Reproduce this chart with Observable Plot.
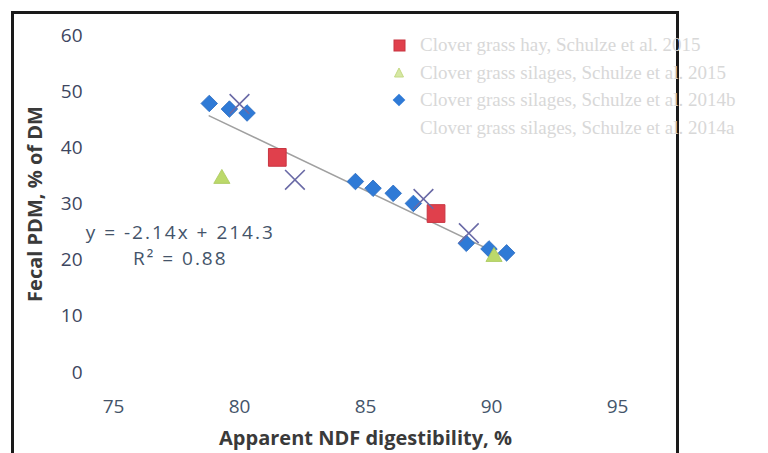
<!DOCTYPE html>
<html>
<head>
<meta charset="utf-8">
<script src="https://cdn.jsdelivr.net/npm/d3@7"></script>
<script src="https://cdn.jsdelivr.net/npm/@observablehq/plot@0.6"></script>
<style>
  html, body { margin: 0; padding: 0; background: #fff; }
  #wrap { position: relative; width: 768px; height: 453px; overflow: hidden; }
  #frame { position: absolute; left: 11px; top: 11px; width: 662px; height: 460px;
           border-left: 3px solid #1a1a1a; border-top: 3px solid #1a1a1a; border-right: 3px solid #1a1a1a; }
  #legend { position: absolute; left: 388px; top: 31px; font-family: "Liberation Serif", serif;
            font-size: 19px; color: #d8d8d8; line-height: 27.5px; }
  #legend div { display: flex; align-items: center; white-space: nowrap; height: 27.5px; }
  #legend svg { width: 22px; height: 18px; margin-right: 10px; }
  svg.plot { position: absolute; left: 0; top: 0; }
  .eqlabel text, .eqlabel tspan { letter-spacing: 2px; }
</style>
</head>
<body>
<div id="wrap">
  <div id="frame"></div>
  <div id="legend"></div>
</div>
<script>
// Series: Clover grass hay, Schulze et al. 2015
const hayX = [81.5, 87.8];
const hayY = [38.3, 28.3];
// Series: Clover grass silages, Schulze et al. 2015
const sil2015X = [79.3, 90.1];
const sil2015Y = [34.5, 20.6];
// Series: Clover grass silages, Schulze et al. 2014b
const sil2014bX = [78.8, 79.6, 80.3, 84.6, 85.3, 86.1, 86.9, 89.0, 89.9, 90.6];
const sil2014bY = [47.9, 46.9, 46.2, 34.0, 32.8, 31.9, 30.1, 23.0, 22.0, 21.3];
// Series: Clover grass silages, Schulze et al. 2014a
const sil2014aX = [80.0, 82.2, 87.3, 89.1];
const sil2014aY = [47.8, 34.3, 30.9, 24.8];
// Trendline end points
const trendX = [78.8, 90.6];
const trendY = [45.7, 20.4];
// Annotation
const eqText = ["y = -2.14x + 214.3\nR² = 0.88"];
const eqX = [77.65];
const eqY = [23.0];
// Ticks
const xTicks = [75, 80, 85, 90, 95];
const yTicks = [0, 10, 20, 30, 40, 50, 60];
const legendLabels = [
  "Clover grass hay, Schulze et al. 2015",
  "Clover grass silages, Schulze et al. 2015",
  "Clover grass silages, Schulze et al. 2014b",
  "Clover grass silages, Schulze et al. 2014a"
];

const pts = (xs, ys) => xs.map((x, i) => ({x, y: ys[i]}));

const chart = Plot.plot({
  width: 768,
  height: 453,
  marginLeft: 113,
  marginRight: 151,
  marginTop: 35,
  marginBottom: 81,
  style: {fontFamily: "'Open Sans', sans-serif", background: "transparent", overflow: "visible"},
  x: {domain: [75, 95], ticks: xTicks, tickSize: 0, tickPadding: 27, label: null},
  y: {domain: [0, 60], ticks: yTicks, tickSize: 0, tickPadding: 31, label: null},
  marks: [
    Plot.axisX({ticks: xTicks, tickSize: 0, tickPadding: 27, fontSize: 19, fill: "#44546a", label: null}),
    Plot.axisY({ticks: yTicks, tickSize: 0, tickPadding: 31, fontSize: 19, fill: "#3d4660", label: null}),
    Plot.line(pts(trendX, trendY), {x: "x", y: "y", stroke: "#a0a0a0", strokeWidth: 1.5}),
    Plot.dot(pts(sil2014bX, sil2014bY), {x: "x", y: "y", symbol: "square", rotate: 45, r: 6.6, fill: "#2f7ad6", stroke: "#2a6cc0", strokeWidth: 0.8}),
    Plot.dot(pts(hayX, hayY), {x: "x", y: "y", symbol: "square", r: 10, fill: "#e0404c", stroke: "#c83440", strokeWidth: 1}),
    Plot.dot(pts(sil2015X, sil2015Y), {x: "x", y: "y", symbol: "triangle", r: 6, fill: "#bcd96a", stroke: "#a8c85a", strokeWidth: 0.8}),
    Plot.dot(pts(sil2014aX, sil2014aY), {x: "x", y: "y", symbol: "times", r: 9, stroke: "#6a6aa6", strokeWidth: 1.6}),
    Plot.text(eqText, {x: () => eqX[0], y: () => eqY[0], text: d => d, fontSize: 19, fill: "#44546a", lineHeight: 1.37, textAnchor: "middle", className: "eqlabel"}),
    Plot.text(["Apparent NDF digestibility, %"], {frameAnchor: "bottom", dy: 72, text: d => d, fontSize: 20, fontWeight: "bold", fill: "#3a3a3a"}),
    Plot.text(["Fecal PDM, % of DM"], {frameAnchor: "left", textAnchor: "middle", dx: -78, rotate: -90, text: d => d, fontSize: 20, fontWeight: "bold", fill: "#3a3a3a"})
  ]
});
document.getElementById("wrap").appendChild(chart);

// Legend
const leg = document.getElementById("legend");
const symbols = [
  '<rect x="6" y="4" width="11" height="11" fill="#e0404c" stroke="#c83440"/>',
  '<path d="M11 5 L15.5 14 L6.5 14 Z" fill="#d6e8a4" stroke="#c4da84"/>',
  '<rect x="6.5" y="4.5" width="9" height="9" fill="#2f7ad6" transform="rotate(45 11 9)"/>',
  ''
];
legendLabels.forEach((lab, i) => {
  const row = document.createElement("div");
  row.innerHTML = `<svg viewBox="0 0 22 18">${symbols[i]}</svg><span>${lab}</span>`;
  leg.appendChild(row);
});
</script>
</body>
</html>
